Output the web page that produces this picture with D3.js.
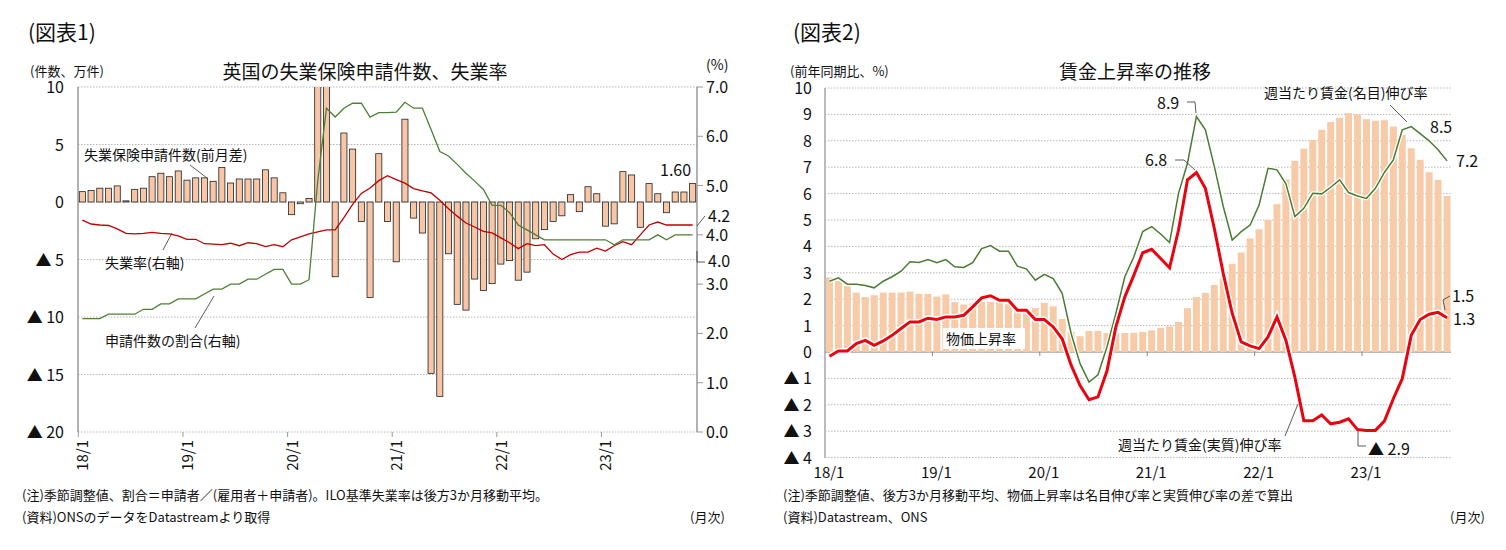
<!DOCTYPE html>
<html><head><meta charset="utf-8">
<script src="https://cdn.jsdelivr.net/npm/d3@7"></script>
<style>
body{margin:0;background:#fff;}
svg text{font-family:"Noto Sans CJK JP","Noto Sans",sans-serif;fill:#111;}
</style></head>
<body><svg id="chart" width="1506" height="550"></svg>
<script>
// ---- panel 1 data (18/1 .. 23/11)
const claims = [0.9,1.0,1.2,1.2,1.4,0.1,1.1,1.2,2.2,2.5,2.2,2.7,1.9,2.1,2.1,1.8,3.0,1.65,2.0,2.0,2.0,2.8,2.1,0.8,
  -1.1,-0.15,0.3,12,12,-6.5,6.0,4.6,-1.7,-8.3,4.2,-1.7,
  -5.2,7.2,-1.4,-2.7,-14.9,-16.9,-4.5,-8.9,-9.4,-6.7,-7.7,-7.1,
  -5.4,-5.1,-6.8,-6.1,-3.2,-2.4,-1.7,-1.2,0.64,-0.84,1.33,0.72,
  -2.1,-1.9,2.64,2.35,-2.2,1.6,0.72,-0.93,0.87,0.87,1.6]
const unempRate = [4.3,4.22,4.2,4.19,4.12,4.03,4.02,4.03,4.05,4.03,4.02,3.98,3.91,3.91,3.82,3.81,3.8,3.83,3.78,3.84,3.82,3.76,3.8,3.76,
  3.9,3.96,4.02,4.06,4.1,4.1,4.35,4.62,4.84,4.95,5.1,5.2,
  5.12,5.05,4.94,4.89,4.85,4.7,4.53,4.38,4.24,4.16,4.07,4.04,
  3.94,3.84,3.72,3.82,3.78,3.8,3.61,3.5,3.6,3.65,3.65,3.73,
  3.67,3.78,3.86,3.8,4.0,4.2,4.26,4.2,4.2,4.2,4.2]
const claimShare = [2.3,2.3,2.3,2.39,2.39,2.39,2.39,2.49,2.49,2.6,2.6,2.7,2.7,2.7,2.8,2.9,2.9,3.0,3.0,3.1,3.1,3.2,3.3,3.3,
  3.0,3.0,3.09,5.1,6.57,6.39,6.57,6.67,6.67,6.39,6.48,6.48,
  6.49,6.69,6.57,6.57,6.14,5.69,5.6,5.43,5.25,5.09,4.92,4.6,
  4.6,4.45,4.2,4.1,4.0,3.9,3.9,3.9,3.9,3.9,3.9,3.9,
  3.9,3.8,3.9,3.9,3.9,3.9,4.0,3.9,4.0,4.0,4.0]
const leftTicks = [10,5,0,-5,-10,-15,-20]
const rightTicks = [7,6,5,4,3,2,1,0]
const yearLabels = ['18/1','19/1','20/1','21/1','22/1','23/1']

// ---- panel 2 data (18/1 .. 23/10)
const priceRate = [2.82,2.72,2.5,2.25,2.08,2.15,2.25,2.25,2.25,2.29,2.2,2.2,2.1,2.18,1.89,1.8,1.84,1.9,1.9,1.9,1.81,1.58,1.5,1.66,
  1.86,1.73,1.25,0.76,0.6,0.8,0.8,0.72,0.72,0.72,0.73,0.76,0.82,0.91,0.97,1.14,1.66,2.08,2.24,2.54,2.78,3.34,3.77,4.3,
  4.65,5.0,5.6,6.54,7.24,7.7,8.03,8.42,8.71,8.87,9.05,9.0,8.82,8.76,8.78,8.54,8.23,7.72,7.28,6.81,6.52,5.91]
const realWage = [-0.16,0.04,0.04,0.32,0.44,0.25,0.42,0.63,0.89,1.14,1.14,1.28,1.23,1.33,1.33,1.39,1.71,2.05,2.13,1.96,1.96,1.58,1.58,1.23,
  1.23,0.95,0.5,-0.5,-1.27,-1.81,-1.7,-0.72,0.95,2.09,2.9,3.76,3.89,3.54,3.19,4.62,6.52,6.8,6.2,4.68,2.97,1.46,0.38,0.23,
  0.13,0.57,1.33,0.44,-0.95,-2.6,-2.6,-2.38,-2.72,-2.66,-2.53,-2.94,-2.97,-2.97,-2.62,-1.77,-1.01,0.63,1.23,1.43,1.5,1.3]
const nominalWage = [2.68,2.81,2.57,2.57,2.52,2.43,2.68,2.85,3.06,3.42,3.39,3.5,3.38,3.5,3.23,3.2,3.38,3.92,4.03,3.82,3.82,3.25,3.15,2.72,
  2.94,2.78,2.22,0.7,-0.44,-1.14,-0.86,0.19,1.46,2.85,3.6,4.56,4.75,4.47,4.15,6.01,7.15,8.92,8.42,7.03,5.51,4.24,4.56,4.81,
  5.57,6.96,6.9,6.37,5.13,5.44,6.01,5.99,6.24,6.52,6.04,5.91,5.82,6.2,6.8,7.28,8.42,8.54,8.27,8.0,7.66,7.24]
const wageTicks = d3.range(-4,11)

const svg = d3.select('#chart')
const fmtTri = v => v < 0 ? '▲ ' + (-v) : String(v)
const grid = '#a6a6a6'

// ================= Panel 1
{
  const x = d3.scaleBand().domain(d3.range(claims.length)).range([78,697]).paddingInner(0.3).paddingOuter(0.15)
  const yL = d3.scaleLinear().domain([-20,10]).range([432,87])
  const yR = d3.scaleLinear().domain([0,7]).range([432,87])
  const g = svg.append('g')
  svg.append('defs').append('clipPath').attr('id','c1').append('rect').attr('x',78).attr('y',87).attr('width',619).attr('height',345)

  leftTicks.forEach(t => {
    g.append('line').attr('x1',78).attr('x2',697).attr('y1',yL(t)).attr('y2',yL(t))
      .attr('stroke',grid).attr('stroke-dasharray','1.5,1.5').attr('stroke-width',0.8)
    g.append('text').attr('x',64).attr('y',yL(t)+6).attr('text-anchor','end').attr('font-size',16).text(fmtTri(t))
  })
  g.append('line').attr('x1',78).attr('x2',78).attr('y1',87).attr('y2',432).attr('stroke','#999').attr('stroke-width',1.5)
  g.append('line').attr('x1',697).attr('x2',697).attr('y1',87).attr('y2',432).attr('stroke','#999').attr('stroke-width',1.5)
  rightTicks.forEach(t => {
    g.append('line').attr('x1',697).attr('x2',703).attr('y1',yR(t)).attr('y2',yR(t)).attr('stroke','#999')
    g.append('text').attr('x',706).attr('y',yR(t)+6).attr('font-size',16).text(t.toFixed(1))
  })

  g.append('g').attr('clip-path','url(#c1)').selectAll('rect').data(claims).join('rect')
    .attr('x',(d,i)=>x(i)).attr('width',x.bandwidth())
    .attr('y',d=>yL(Math.max(0,d))).attr('height',d=>Math.abs(yL(d)-yL(0)))
    .attr('fill','#f7c6a6').attr('stroke','#222').attr('stroke-width',0.8)

  const cx = i => x(i)+x.bandwidth()/2
  g.append('path').datum(unempRate).attr('fill','none').attr('stroke','#c00000').attr('stroke-width',1.3)
    .attr('d',d3.line().x((d,i)=>cx(i)).y(d=>yR(d)))
  g.append('path').datum(claimShare).attr('fill','none').attr('stroke','#4f7f35').attr('stroke-width',1.3)
    .attr('d',d3.line().x((d,i)=>cx(i)).y(d=>yR(d)))

  yearLabels.forEach((l,k) => {
    const xx = cx(k*12)
    g.append('line').attr('x1',xx-4).attr('x2',xx-4).attr('y1',432).attr('y2',437).attr('stroke','#999')
    g.append('text').attr('transform',`translate(${xx+6},440) rotate(-90)`).attr('text-anchor','end').attr('font-size',15).text(l)
  })

  const ann = (t,tx,ty,x1,y1,x2,y2,fs=14) => {
    if (x1!=null) g.append('line').attr('x1',x1).attr('y1',y1).attr('x2',x2).attr('y2',y2).attr('stroke','#333').attr('stroke-width',0.8)
    g.append('text').attr('x',tx).attr('y',ty).attr('font-size',fs).text(t)
  }
  ann('失業保険申請件数(前月差)',84,160, 190,165, 207,178)
  ann('失業率(右軸)',105,268, 163,250, 172,233)
  ann('申請件数の割合(右軸)',105,346, 195,328, 214,296)
  ann('1.60',660,176,null,null,null,null,16)
  ann('4.2',708,222, 697,226, 705,216,16)
  ann('4.0',708,267, 697,251, 697,262,16)
  g.append('line').attr('x1',697).attr('y1',262).attr('x2',705).attr('y2',262).attr('stroke','#333').attr('stroke-width',0.8)

  svg.append('text').attr('x',28).attr('y',40).attr('font-size',21).text('(図表1)')
  svg.append('text').attr('x',30).attr('y',76).attr('font-size',13).text('(件数、万件)')
  svg.append('text').attr('x',706).attr('y',70).attr('font-size',14).text('(%)')
  svg.append('text').attr('x',365).attr('y',79).attr('text-anchor','middle').attr('font-size',19).text('英国の失業保険申請件数、失業率')
  svg.append('text').attr('x',22).attr('y',500).attr('font-size',13).text('(注)季節調整値、割合＝申請者／(雇用者＋申請者)。ILO基準失業率は後方3か月移動平均。')
  svg.append('text').attr('x',22).attr('y',522).attr('font-size',13).text('(資料)ONSのデータをDatastreamより取得')
  svg.append('text').attr('x',690).attr('y',522).attr('font-size',13).text('(月次)')
}

// ================= Panel 2
{
  const x = d3.scaleBand().domain(d3.range(priceRate.length)).range([825,1451.5]).paddingInner(0.22).paddingOuter(0.11)
  const y = d3.scaleLinear().domain([-4,10]).range([457.6,88])
  const g = svg.append('g')
  wageTicks.forEach(t => {
    g.append('line').attr('x1',825).attr('x2',1451).attr('y1',y(t)).attr('y2',y(t))
      .attr('stroke',grid).attr('stroke-dasharray','1.5,1.5').attr('stroke-width',0.8)
    g.append('text').attr('x',812).attr('y',y(t)+6).attr('text-anchor','end').attr('font-size',16).text(fmtTri(t))
  })
  g.append('line').attr('x1',825).attr('x2',825).attr('y1',88).attr('y2',458).attr('stroke','#bbb').attr('stroke-width',2)
  g.append('line').attr('x1',825).attr('x2',1451).attr('y1',y(0)).attr('y2',y(0)).attr('stroke','#888').attr('stroke-width',1)

  g.selectAll('rect.p').data(priceRate).join('rect').attr('class','p')
    .attr('x',(d,i)=>x(i)).attr('width',x.bandwidth()).attr('y',d=>y(d)).attr('height',d=>y(0)-y(d))
    .attr('fill','#f7cba8')
  const step = x.step()
  yearLabels.forEach((l,k) => {
    const xx = 825 + k*12*step
    if (k>0) g.append('line').attr('x1',xx).attr('x2',xx).attr('y1',y(0)).attr('y2',y(0)+4).attr('stroke','#888')
    g.append('text').attr('x',xx+4).attr('y',478).attr('text-anchor','middle').attr('font-size',15).text(l)
  })

  const cx = i => x(i)+x.bandwidth()/2
  const line = d3.line().x((d,i)=>cx(i)).y(d=>y(d))
  g.append('path').datum(nominalWage).attr('fill','none').attr('stroke','#fff').attr('stroke-width',4).attr('d',line)
  g.append('path').datum(nominalWage).attr('fill','none').attr('stroke','#4a7c32').attr('stroke-width',1.5).attr('d',line)
  g.append('path').datum(realWage).attr('fill','none').attr('stroke','#fff').attr('stroke-width',6).attr('d',line)
  g.append('path').datum(realWage).attr('fill','none').attr('stroke','#e8050f').attr('stroke-width',3).attr('d',line)

  const lbl = (t,tx,ty,pts,fs=16,col='#111',anchor='start') => {
    if (pts) g.append('path').attr('d',d3.line()(pts)).attr('fill','none').attr('stroke','#333').attr('stroke-width',0.8)
    g.append('text').attr('x',tx).attr('y',ty).attr('font-size',fs).attr('fill',col).attr('text-anchor',anchor).text(t)
  }
  lbl('8.9',1157,109,[[1187,102],[1195,102],[1196,113]])
  lbl('6.8',1145,166,[[1175,160],[1184,160],[1195,170]])
  lbl('1.5',1452,302,[[1445,310],[1443,300],[1450,296]])
  lbl('1.3',1453,325)
  lbl('▲ 2.9',1368,455,[[1358,431],[1358,446],[1366,446]])
  lbl('8.5',1430,133)
  lbl('7.2',1456,167)
  lbl('週当たり賃金(名目)伸び率',1264,98,[[1390,105],[1407,122]],14,'#4a7c32')
  lbl('週当たり賃金(実質)伸び率',1118,450,[[1285,436],[1298,404]],14,'#e8050f')
  g.append('rect').attr('x',943).attr('y',328).attr('width',82).attr('height',21).attr('fill','#fff')
  lbl('物価上昇率',946,344,null,14,'#8b4513')

  svg.append('text').attr('x',793).attr('y',40).attr('font-size',21).text('(図表2)')
  svg.append('text').attr('x',790).attr('y',76).attr('font-size',13).text('(前年同期比、%)')
  svg.append('text').attr('x',1135).attr('y',79).attr('text-anchor','middle').attr('font-size',19).text('賃金上昇率の推移')
  svg.append('text').attr('x',783).attr('y',500).attr('font-size',13).text('(注)季節調整値、後方3か月移動平均、物価上昇率は名目伸び率と実質伸び率の差で算出')
  svg.append('text').attr('x',783).attr('y',522).attr('font-size',13).text('(資料)Datastream、ONS')
  svg.append('text').attr('x',1450).attr('y',522).attr('font-size',13).text('(月次)')
}
</script></body></html>
